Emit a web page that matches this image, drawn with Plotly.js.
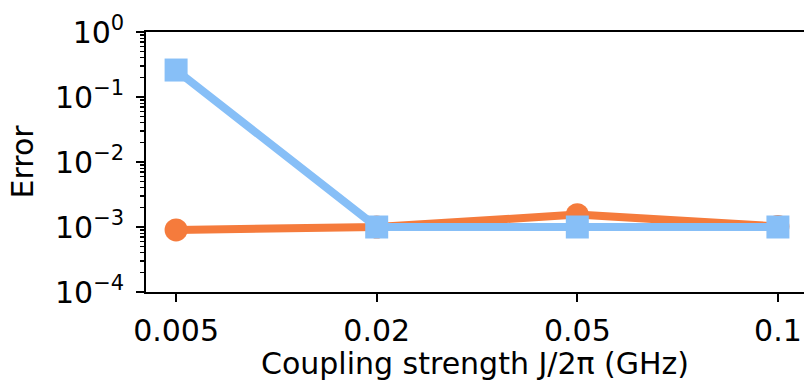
<!DOCTYPE html>
<html>
<head>
<meta charset="utf-8">
<script src="https://cdn.plot.ly/plotly-3.0.1.min.js"></script>
<style>html,body{margin:0;padding:0;background:#fff;}#chart{width:804px;height:381px;}</style>
</head>
<body>
<div id="chart"></div>
<script>
const categories = ["0.005", "0.02", "0.05", "0.1"];
const orangeSeries = [9.0e-4, 1.0e-3, 1.55e-3, 1.02e-3];
const blueSeries = [0.26, 1.0e-3, 1.0e-3, 1.0e-3];
const yTickVals = [1e-4, 1e-3, 1e-2, 1e-1, 1];
const yTickText = ["10<sup>−4</sup>", "10<sup>−3</sup>", "10<sup>−2</sup>", "10<sup>−1</sup>", "10<sup>0</sup>"];

const minorVals = [];
for (let e = -4; e < 0; e++) {
  for (let m = 2; m <= 9; m++) minorVals.push(m * Math.pow(10, e));
}

const fontFamily = "DejaVu Sans, sans-serif";
const FS = 30;
const traces = [
  {
    x: categories, y: orangeSeries, type: "scatter", mode: "lines+markers",
    line: {color: "#f57b3c", width: 8},
    marker: {symbol: "circle", size: 23, color: "#f57b3c"},
    showlegend: false, hoverinfo: "skip"
  },
  {
    x: categories, y: blueSeries, type: "scatter", mode: "lines+markers",
    line: {color: "#87bff7", width: 8},
    marker: {symbol: "square", size: 23, color: "#87bff7"},
    showlegend: false, hoverinfo: "skip"
  }
];

const layout = {
  width: 804, height: 381,
  margin: {l: 146, r: 0, t: 32, b: 89, pad: 0},
  paper_bgcolor: "#ffffff", plot_bgcolor: "#ffffff",
  font: {family: fontFamily, size: FS, color: "#000"},
  xaxis: {
    type: "category",
    range: [-0.15, 3.13],
    showgrid: false, zeroline: false,
    showline: true, linecolor: "#000", linewidth: 1.8, mirror: true,
    ticks: "outside", ticklen: 8, tickwidth: 1.8, tickcolor: "#000",
    ticklabelstandoff: 3,
    tickfont: {family: fontFamily, size: FS},
    title: {text: "Coupling strength J/2π (GHz)", font: {family: fontFamily, size: FS}, standoff: 3}
  },
  yaxis: {
    type: "log",
    range: [-4, 0],
    showgrid: false, zeroline: false,
    showline: true, linecolor: "#000", linewidth: 1.8,
    ticks: "outside", ticklen: 8, tickwidth: 1.8, tickcolor: "#000",
    tickmode: "array", tickvals: yTickVals, ticktext: yTickText,
    ticklabelstandoff: 6,
    tickfont: {family: fontFamily, size: FS},
    minor: {tickmode: "array", tickvals: minorVals, ticks: "outside", ticklen: 4.5, tickwidth: 1.2, tickcolor: "#000", showgrid: false},
    title: {text: "Error", font: {family: fontFamily, size: FS}, standoff: 12}
  }
};

Plotly.newPlot("chart", traces, layout, {staticPlot: true, displayModeBar: false});
</script>
</body>
</html>
